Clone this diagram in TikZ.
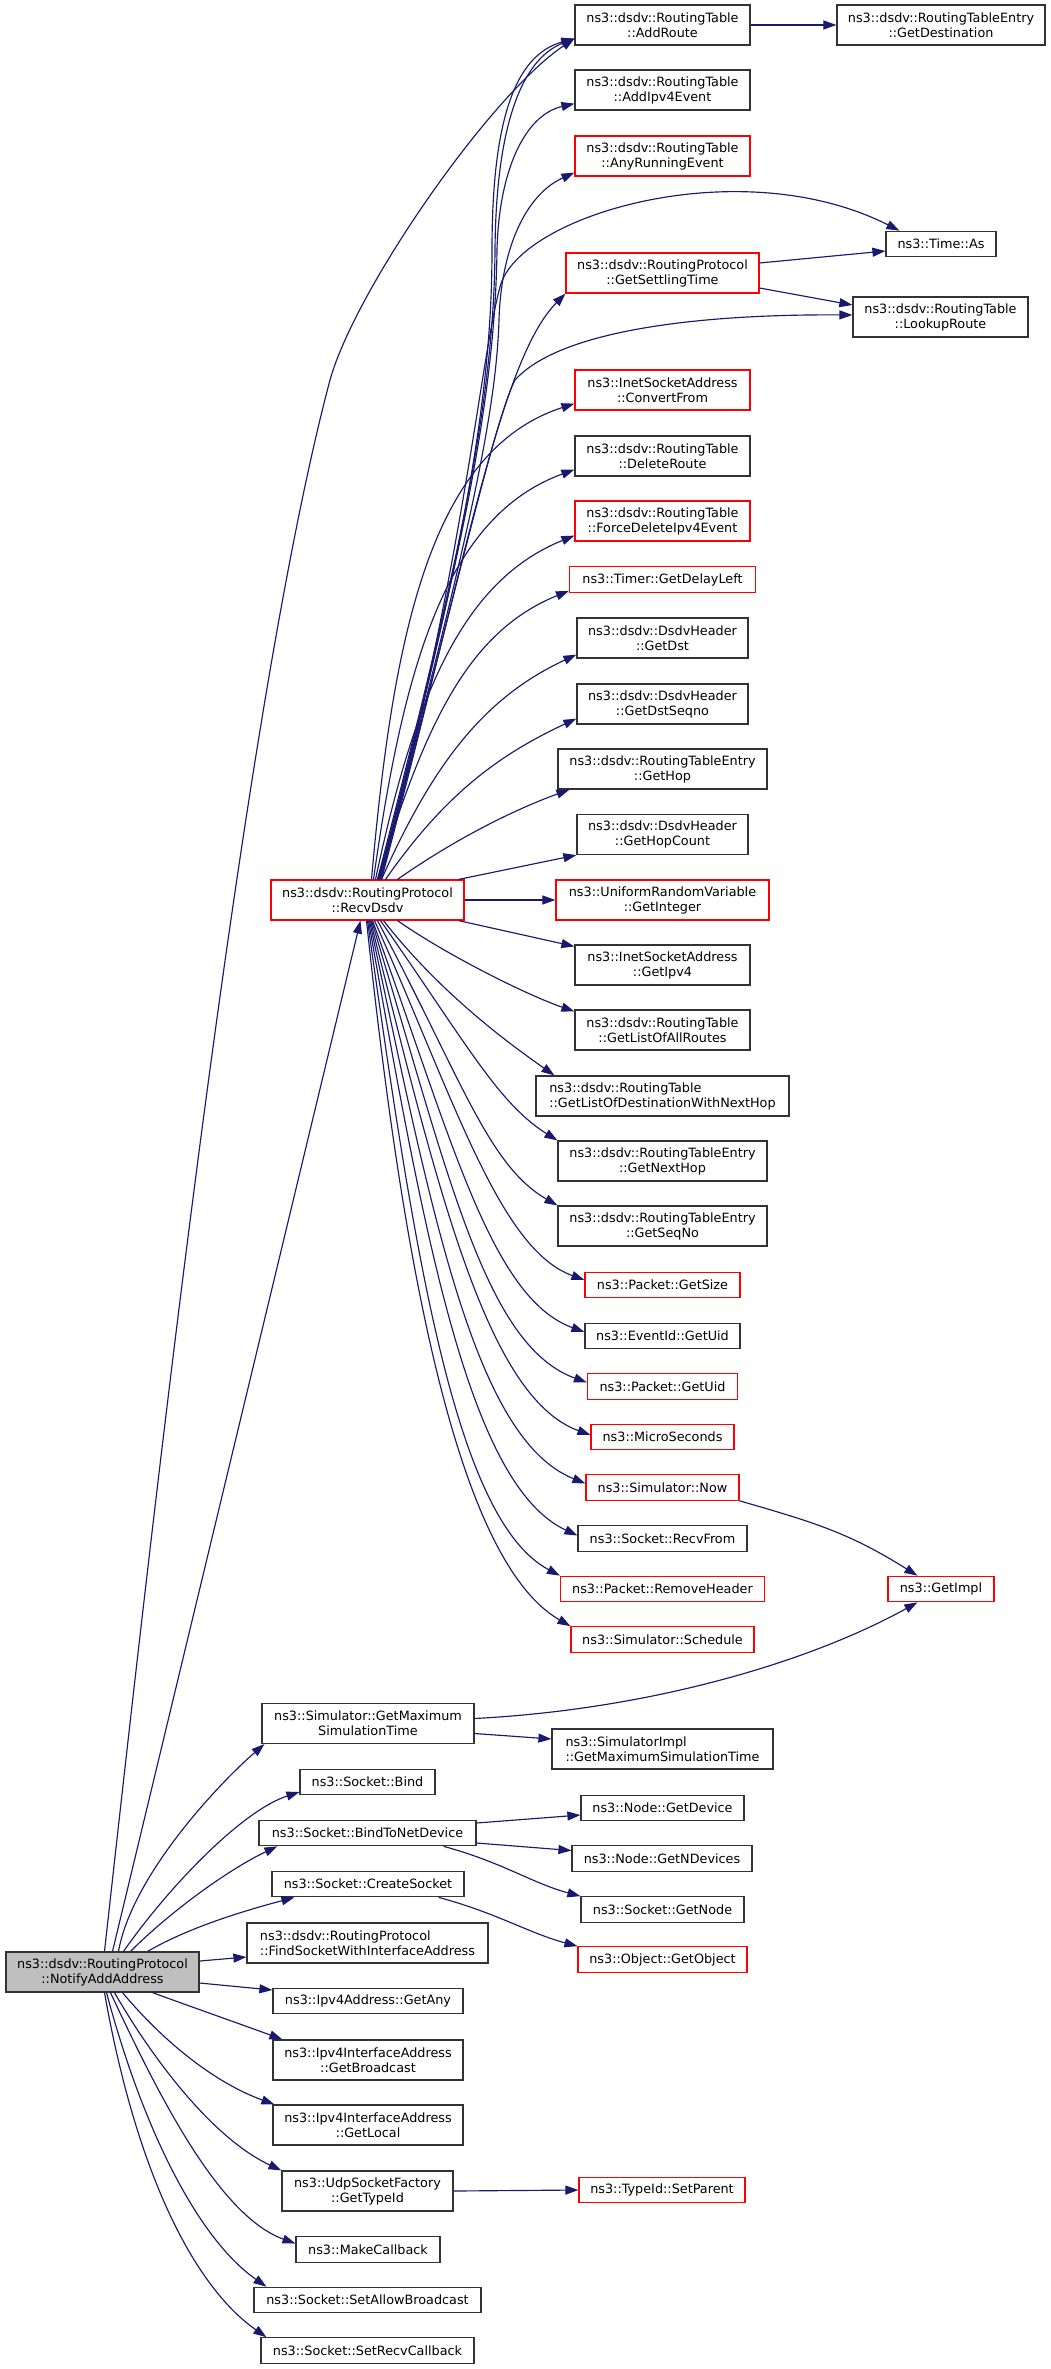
\documentclass[tikz,border=0pt]{standalone}
\usepackage{fontspec}
\setmainfont{DejaVu Sans}
\usetikzlibrary{arrows.meta}
\definecolor{edgeblue}{HTML}{191970}
\definecolor{boxgrey}{HTML}{BFBFBF}
\definecolor{boxred}{HTML}{FF0000}

\begin{document}
\begin{tikzpicture}[x=1pt,y=1pt,
  fn/.style={draw=black!80, line width=1.2pt, fill=white, inner sep=0pt, minimum height=25.5pt, align=center, font=\fontsize{12.8}{15}\selectfont},
  two/.style={minimum height=40pt},
  nodoc/.style={draw=boxred},
  root/.style={fill=boxgrey},
  call/.style={draw=edgeblue, line width=1.15pt, -{Triangle[length=13pt,width=9pt]}}]
\useasboundingbox (0,0) rectangle (1051,-2369);

% the two callers
\node[fn,two,root,minimum width=193pt] (notify) at (102.5,-1972) {ns3::dsdv::RoutingProtocol\\::NotifyAddAddress};
\node[fn,two,nodoc,minimum width=193pt] (recv) at (367.5,-900) {ns3::dsdv::RoutingProtocol\\::RecvDsdv};

% called from RecvDsdv
\node[fn,two,minimum width=175pt] (addroute) at (662.5,-25) {ns3::dsdv::RoutingTable\\::AddRoute};
\node[fn,two,minimum width=175pt] (addipv4) at (662.5,-90) {ns3::dsdv::RoutingTable\\::AddIpv4Event};
\node[fn,two,nodoc,minimum width=175pt] (anyrun) at (662.5,-156) {ns3::dsdv::RoutingTable\\::AnyRunningEvent};
\node[fn,two,nodoc,minimum width=193pt] (settle) at (662.5,-273) {ns3::dsdv::RoutingProtocol\\::GetSettlingTime};
\node[fn,two,nodoc,minimum width=175pt] (convfrom) at (662.5,-390) {ns3::InetSocketAddress\\::ConvertFrom};
\node[fn,two,minimum width=175pt] (delroute) at (662.5,-456) {ns3::dsdv::RoutingTable\\::DeleteRoute};
\node[fn,two,nodoc,minimum width=175pt] (forcedel) at (662.5,-521) {ns3::dsdv::RoutingTable\\::ForceDeleteIpv4Event};
\node[fn,nodoc,minimum width=186pt] (delayleft) at (662.5,-579.5) {ns3::Timer::GetDelayLeft};
\node[fn,two,minimum width=171pt] (getdst) at (662.5,-638) {ns3::dsdv::DsdvHeader\\::GetDst};
\node[fn,two,minimum width=171pt] (dstseq) at (662.5,-704) {ns3::dsdv::DsdvHeader\\::GetDstSeqno};
\node[fn,two,minimum width=209pt] (gethop) at (662.5,-769) {ns3::dsdv::RoutingTableEntry\\::GetHop};
\node[fn,two,minimum width=171pt] (hopcount) at (662.5,-834.5) {ns3::dsdv::DsdvHeader\\::GetHopCount};
\node[fn,two,nodoc,minimum width=213pt] (getint) at (662.5,-900) {ns3::UniformRandomVariable\\::GetInteger};
\node[fn,two,minimum width=175pt] (getipv4) at (662.5,-965) {ns3::InetSocketAddress\\::GetIpv4};
\node[fn,two,minimum width=175pt] (allroutes) at (662.5,-1030) {ns3::dsdv::RoutingTable\\::GetListOfAllRoutes};
\node[fn,two,align=left,minimum width=253pt] (destnext) at (662.5,-1096) {ns3::dsdv::RoutingTable\\::GetListOfDestinationWithNextHop};
\node[fn,two,minimum width=209pt] (nexthop) at (662.5,-1161) {ns3::dsdv::RoutingTableEntry\\::GetNextHop};
\node[fn,two,minimum width=209pt] (seqno) at (662.5,-1226) {ns3::dsdv::RoutingTableEntry\\::GetSeqNo};
\node[fn,nodoc,minimum width=155pt] (getsize) at (662.5,-1285) {ns3::Packet::GetSize};
\node[fn,minimum width=155pt] (eventuid) at (662.5,-1336) {ns3::EventId::GetUid};
\node[fn,nodoc,minimum width=150pt] (pktuid) at (662.5,-1386.5) {ns3::Packet::GetUid};
\node[fn,nodoc,minimum width=143pt] (micro) at (662.5,-1437) {ns3::MicroSeconds};
\node[fn,nodoc,minimum width=153pt] (now) at (662.5,-1487.5) {ns3::Simulator::Now};
\node[fn,minimum width=169pt] (recvfrom) at (662.5,-1538.5) {ns3::Socket::RecvFrom};
\node[fn,nodoc,minimum width=204pt] (rmheader) at (662.5,-1589) {ns3::Packet::RemoveHeader};
\node[fn,nodoc,minimum width=183pt] (schedule) at (662.5,-1639.5) {ns3::Simulator::Schedule};

% third column
\node[fn,two,minimum width=208pt] (getdest) at (941,-25) {ns3::dsdv::RoutingTableEntry\\::GetDestination};
\node[fn,minimum width=110pt] (timeas) at (941,-244) {ns3::Time::As};
\node[fn,two,minimum width=175pt] (lookup) at (940.5,-317) {ns3::dsdv::RoutingTable\\::LookupRoute};
\node[fn,nodoc,minimum width=106pt] (getimpl) at (941,-1589) {ns3::GetImpl};

% called from NotifyAddAddress
\node[fn,two,minimum width=212pt] (simmax) at (368,-1723.5) {ns3::Simulator::GetMaximum\\SimulationTime};
\node[fn,minimum width=135pt] (bind) at (367.5,-1782) {ns3::Socket::Bind};
\node[fn,minimum width=217pt] (bindnet) at (367.5,-1833) {ns3::Socket::BindToNetDevice};
\node[fn,minimum width=192pt] (create) at (368,-1884) {ns3::Socket::CreateSocket};
\node[fn,two,align=left,minimum width=241pt] (findsock) at (367.5,-1943) {ns3::dsdv::RoutingProtocol\\::FindSocketWithInterfaceAddress};
\node[fn,minimum width=190pt] (getany) at (368,-2001) {ns3::Ipv4Address::GetAny};
\node[fn,two,minimum width=190pt] (bcast) at (368,-2060) {ns3::Ipv4InterfaceAddress\\::GetBroadcast};
\node[fn,two,minimum width=190pt] (local) at (368,-2125) {ns3::Ipv4InterfaceAddress\\::GetLocal};
\node[fn,two,minimum width=171pt] (udptype) at (367.5,-2191) {ns3::UdpSocketFactory\\::GetTypeId};
\node[fn,minimum width=144pt] (makecb) at (368,-2249.5) {ns3::MakeCallback};
\node[fn,minimum width=227pt] (allowbc) at (367.5,-2300) {ns3::Socket::SetAllowBroadcast};
\node[fn,minimum width=213pt] (recvcb) at (367.5,-2350.5) {ns3::Socket::SetRecvCallback};

\node[fn,two,align=left,minimum width=221pt] (simimpl) at (662.5,-1749) {ns3::SimulatorImpl\\::GetMaximumSimulationTime};
\node[fn,minimum width=163pt] (getdev) at (662.5,-1808) {ns3::Node::GetDevice};
\node[fn,minimum width=180pt] (getndev) at (662,-1858.5) {ns3::Node::GetNDevices};
\node[fn,minimum width=163pt] (getnode) at (662.5,-1909.5) {ns3::Socket::GetNode};
\node[fn,nodoc,minimum width=169pt] (getobj) at (662.5,-1959.5) {ns3::Object::GetObject};
\node[fn,nodoc,minimum width=166pt] (setparent) at (662,-2190) {ns3::TypeId::SetParent};

% edges out of NotifyAddAddress
\draw[call] ([xshift=2pt]notify.north) .. controls (160,-1450) and (245,-700) .. (330,-380) .. controls (355,-290) and (490,-95) .. ([yshift=7pt]addroute.south west);
\draw[call] ([xshift=10pt]notify.north) -- ([xshift=-7pt]recv.south);
\draw[call] ([xshift=16pt]notify.north) .. controls +(80:75) and +(221:65) .. ([xshift=3pt]simmax.south west);
\draw[call] ([xshift=21pt]notify.north) .. controls +(55:80) and +(198:60) .. ([yshift=-10pt]bind.west);
\draw[call] ([xshift=28pt]notify.north) .. controls +(45:60) and +(205:50) .. ([xshift=19pt]bindnet.south west);
\draw[call] ([xshift=45pt]notify.north) .. controls +(30:50) and +(195:50) .. ([xshift=23pt]create.south west);
\draw[call] ([yshift=11pt]notify.east) -- ([yshift=-14pt]findsock.west);
\draw[call] ([yshift=-11pt]notify.east) -- ([yshift=11pt]getany.west);
\draw[call] ([xshift=50pt]notify.south) .. controls +(-20:50) and +(160:50) .. ([xshift=10pt]bcast.north west);
\draw[call] ([xshift=20pt]notify.south) .. controls +(-50:70) and +(160:60) .. ([xshift=2pt]local.north west);
\draw[call] ([xshift=12pt]notify.south) .. controls +(-60:90) and +(155:70) .. (udptype.north west);
\draw[call] ([xshift=8pt]notify.south) .. controls +(-65:120) and +(160:80) .. ([yshift=6pt]makecb.west);
\draw[call] ([xshift=4pt]notify.south) .. controls +(-75:150) and +(145:80) .. ([xshift=13pt]allowbc.north west);
\draw[call] ([xshift=2pt]notify.south) .. controls +(-80:180) and +(145:90) .. ([xshift=6pt]recvcb.north west);

% edges out of RecvDsdv, upwards
\draw[call] ([xshift=10pt]recv.north) .. controls (460,-560) and (494,-400) .. (495,-250) .. controls (496,-130) and (520,-60) .. ([yshift=7pt]addroute.south west);
\draw[call] ([xshift=12pt]recv.north) .. controls (462,-560) and (492,-400) .. (492,-250) .. controls (492,-120) and (515,-55) .. ([yshift=7pt]addroute.south west);
\draw[call] ([xshift=11pt]recv.north) .. controls (461,-560) and (495,-400) .. (497,-250) .. controls (499,-170) and (525,-115) .. ([yshift=7pt]addipv4.south west);
\draw[call] ([xshift=12pt]recv.north) .. controls (463,-560) and (496,-420) .. (499,-320) .. controls (501,-250) and (525,-195) .. ([yshift=4pt]anyrun.south west);
\draw[call] ([xshift=13pt]recv.north) .. controls (465,-560) and (480,-360) .. (500,-287) .. controls (518,-215) and (740,-150) .. ([xshift=14pt]timeas.north west);
\draw[call] ([xshift=14pt]recv.north) .. controls (466,-560) and (500,-360) .. (settle.south west);
\draw[call] ([xshift=13pt]recv.north) .. controls (464,-560) and (495,-420) .. (515,-380) .. controls (560,-330) and (700,-314) .. ([yshift=2pt]lookup.west);
\draw[call] ([xshift=4pt]recv.north) .. controls +(85:250) and +(198:150) .. ([yshift=7pt]convfrom.south west);
\draw[call] ([xshift=6pt]recv.north) .. controls +(82:220) and +(200:135) .. ([yshift=7pt]delroute.south west);
\draw[call] ([xshift=8pt]recv.north) .. controls +(78:190) and +(202:120) .. ([yshift=6pt]forcedel.south west);
\draw[call] ([xshift=10pt]recv.north) .. controls +(73:160) and +(202:110) .. ([yshift=2pt]delayleft.south west);
\draw[call] ([xshift=14pt]recv.north) .. controls +(66:130) and +(205:100) .. ([yshift=4pt]getdst.south west);
\draw[call] ([xshift=18pt]recv.north) .. controls +(55:100) and +(205:90) .. ([yshift=6pt]dstseq.south west);
\draw[call] ([xshift=30pt]recv.north) .. controls +(35:70) and +(200:60) .. ([xshift=12pt]gethop.south west);
\draw[call] ([xshift=-6pt]recv.north east) -- (hopcount.south west);
\draw[call] (recv.east) -- (getint.west);

% edges out of RecvDsdv, downwards
\draw[call] ([xshift=-6pt]recv.south east) -- ([yshift=-2pt]getipv4.north west);
\draw[call] ([xshift=30pt]recv.south) .. controls +(-35:60) and +(161:50) .. ([yshift=-2pt]allroutes.north west);
\draw[call] ([xshift=16pt]recv.south) .. controls +(-52:90) and +(145:60) .. ([xshift=19pt]destnext.north west);
\draw[call] ([xshift=13pt]recv.south) .. controls +(-55:150) and +(148:70) .. (nexthop.north west);
\draw[call] ([xshift=10pt]recv.south) .. controls +(-62:180) and +(150:80) .. (seqno.north west);
\draw[call] ([xshift=7pt]recv.south) .. controls +(-66:200) and +(160:90) .. ([yshift=5pt]getsize.west);
\draw[call] ([xshift=5pt]recv.south) .. controls +(-70:230) and +(160:100) .. ([yshift=4pt]eventuid.west);
\draw[call] ([xshift=4pt]recv.south) .. controls +(-73:260) and +(160:110) .. ([yshift=4pt]pktuid.west);
\draw[call] ([xshift=3pt]recv.south) .. controls +(-76:280) and +(160:110) .. ([yshift=2pt]micro.west);
\draw[call] ([xshift=2pt]recv.south) .. controls +(-78:300) and +(158:120) .. ([yshift=4pt]now.west);
\draw[call] ([xshift=1pt]recv.south) .. controls +(-80:320) and +(155:120) .. ([yshift=3pt]recvfrom.west);
\draw[call] ([xshift=0pt]recv.south) .. controls +(-82:330) and +(152:120) .. (rmheader.north west);
\draw[call] ([xshift=-1pt]recv.south) .. controls +(-84:350) and +(150:130) .. (schedule.north west);

% further calls
\draw[call] (addroute.east) -- (getdest.west);
\draw[call] ([yshift=10pt]settle.east) -- ([yshift=-7pt]timeas.west);
\draw[call] ([yshift=-15pt]settle.east) -- ([yshift=12pt]lookup.west);
\draw[call] (now.south east) .. controls +(-16:80) and +(148:80) .. ([xshift=30pt]getimpl.north west);
\draw[call] ([yshift=5pt]simmax.east) .. controls +(3:180) and +(209:120) .. ([xshift=30pt]getimpl.south west);
\draw[call] ([yshift=-10pt]simmax.east) -- ([yshift=10pt]simimpl.west);
\draw[call] ([yshift=10pt]bindnet.east) -- ([yshift=-7pt]getdev.west);
\draw[call] ([yshift=-10pt]bindnet.east) -- ([yshift=8pt]getndev.west);
\draw[call] ([xshift=-33pt]bindnet.south east) .. controls +(-15:60) and +(165:50) .. (getnode.north west);
\draw[call] ([xshift=-26pt]create.south east) .. controls +(-15:60) and +(165:50) .. (getobj.north west);
\draw[call] (udptype.east) -- (setparent.west);

\end{tikzpicture}
\end{document}
